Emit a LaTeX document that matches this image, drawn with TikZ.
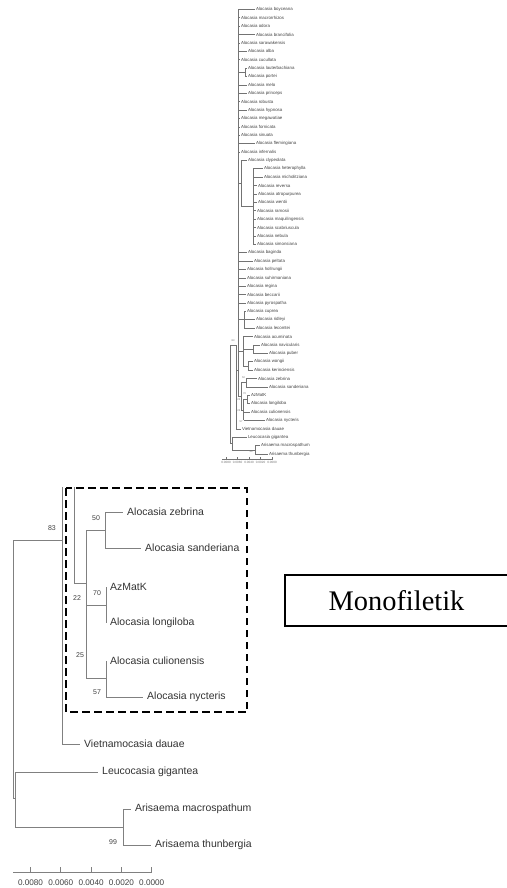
\documentclass[tikz,border=0pt]{standalone}
\usepackage{fontspec}
\setmainfont{Liberation Serif}
\newfontfamily\treefont{Liberation Sans}
\tikzset{
  branch/.style={draw=black!50, line width=0.7bp},
  twig/.style={draw=black!55, line width=0.5bp},
  taxon/.style={anchor=west, inner sep=4bp, text=black!80, font=\treefont\fontsize{10.5}{12}\selectfont},
  minitaxon/.style={anchor=west, inner sep=0.8bp, text=black!75, font=\treefont\fontsize{4.4}{5}\selectfont},
  boot/.style={inner sep=0, text=black!75, font=\treefont\fontsize{7}{8}\selectfont},
  scalelabel/.style={inner sep=0, text=black!75, font=\treefont\fontsize{8.2}{9}\selectfont},
  miniboot/.style={inner sep=0, text=black!55, font=\treefont\fontsize{2.6}{3}\selectfont},
  dashbox/.style={line width=2.6bp, dash pattern=on 7.5bp off 4.5bp},
}
\begin{document}
\begin{tikzpicture}[x=1bp,y=-1bp]
	\useasboundingbox (0,0) rectangle (507,888);
	% overview tree
	\foreach \name/\tx/\px [count=\i] in {Alocasia boyceana/255/238, Alocasia macrorrhizos/240/238, Alocasia odora/240/238, Alocasia brancifolia/255/238, Alocasia sarawakensis/240/238, Alocasia alba/247/238, Alocasia cucullata/240/238, Alocasia lauterbachiana/247/245, Alocasia portei/247/245, Alocasia melo/247/238, Alocasia princeps/247/238, Alocasia robusta/240/238, Alocasia hypnosa/247/238, Alocasia megawatiae/240/238, Alocasia fornicata/240/238, Alocasia sinuata/240/238, Alocasia flemingiana/255/238, Alocasia infernalis/240/238, Alocasia clypeolata/247/241, Alocasia heterophylla/263/253, Alocasia micholitziana/263/253, Alocasia reversa/257/253, Alocasia atropurpurea/257/253, Alocasia wentii/257/253, Alocasia ramosii/256/253, Alocasia maquilingensis/256/253, Alocasia scabriuscula/256/253, Alocasia nebula/256/253, Alocasia simonsiana/256/253, Alocasia baginda/247/238, Alocasia peltata/253/238, Alocasia hollrungii/246/238, Alocasia suhirmaniana/246/238, Alocasia regina/246/238, Alocasia beccarii/246/238, Alocasia pyrospatha/246/238, Alocasia cuprea/246/244, Alocasia ridleyi/255/244, Alocasia lecomtei/255/244, Alocasia acuminata/253/243, Alocasia navicularis/260/253, Alocasia puber/268/253, Alocasia wongii/253/248, Alocasia kerinciensis/253/248, Alocasia zebrina/257/246, Alocasia sanderiana/268/246, AzMatK/250/247, Alocasia longiloba/250/247, Alocasia culionensis/250/243.5, Alocasia nycteris/265/243.5, Vietnamocasia dauae/241/236, Leucocasia gigantea/247/232, Arisaema macrospathum/260/255, Arisaema thunbergia/268/255}{
		\node[minitaxon] (t\i) at (\tx,{9.3+(\i-1)*8.39}) {\name};
		\draw[twig] (\px,{9.3+(\i-1)*8.39}) -- (t\i.west);
	}
	\foreach \nx/\ya/\yb/\px in {245/68.03/76.42/238, 253/168.71/244.22/241, 241/160.32/206.47/238, 244/311.34/328.12/238, 253/344.9/353.29/243, 248/361.68/370.07/243, 243/336.51/365.88/238, 246/378.46/386.85/241, 247/395.24/403.63/243.5, 243.5/399.44/420.41/241, 241/382.66/409.93/238, 255/445.58/453.97/232, 232/437.19/449.78/230}{
		\draw[twig] (\nx,\ya) -- (\nx,\yb);
		\draw[twig] (\px,{(\ya+\yb)/2}) -- (\nx,{(\ya+\yb)/2});
	}
	\draw[twig, line width=0.8bp] (238,9.3) -- (238,396.3);
	\draw[twig] (230,345) -- (230,443.5);
	\draw[twig] (230,345) -- (236,345) -- (236,428.8);
	\draw[twig] (236,370) -- (238,370);
	\node[miniboot] (m83) at (233,341) {83};
	\node[miniboot] (m50) at (243.5,378) {50};
	\node[miniboot] (m70) at (244.5,394) {70};
	\node[miniboot] (m22) at (238.8,400) {22};
	\node[miniboot] (m25) at (238.8,411) {25};
	\node[miniboot] (m57) at (241,422) {57};
	\node[miniboot] (m99) at (251,452) {99};
	\draw[twig] (222,459) -- (273,459);
	\foreach \v [count=\k from 0] in {0.0080,0.0060,0.0040,0.0020,0.0000}{
		\draw[twig] ({226+11.5*\k},457) -- ({226+11.5*\k},459);
		\node[miniboot, font=\treefont\fontsize{3.1}{4}\selectfont] (ms\k) at ({226+11.5*\k},462.5) {\v};
	}
	% enlarged tree
	\node[taxon] (zeb) at (123,512) {Alocasia zebrina};
	\node[taxon] (san) at (141,548) {Alocasia sanderiana};
	\node[taxon] (azm) at (106,587) {AzMatK};
	\node[taxon] (lon) at (106,623) {Alocasia longiloba};
	\node[taxon] (cul) at (106,661) {Alocasia culionensis};
	\node[taxon] (nyc) at (143,697) {Alocasia nycteris};
	\node[taxon] (vie) at (80,744) {Vietnamocasia dauae};
	\node[taxon] (leu) at (98,772) {Leucocasia gigantea};
	\node[taxon] (mac) at (131,809) {Arisaema macrospathum};
	\node[taxon] (thu) at (151,845) {Arisaema thunbergia};
	\coordinate (cutA) at (62,487);
	\coordinate (cutB) at (74,487);
	\coordinate (root) at (13,540);
	\coordinate (nIn) at (62,540);
	\coordinate (n22) at (86,583);
	\coordinate (n50) at (105,530);
	\coordinate (n70) at (106,605);
	\coordinate (n57) at (106,678);
	\coordinate (nOut) at (15,798);
	\coordinate (n99) at (123,827);
	\draw[branch] (n50) |- (zeb.west);
	\draw[branch] (n50) |- (san.west);
	\draw[branch] (n70) |- (azm.west);
	\draw[branch] (n70) |- (lon.west);
	\draw[branch] (n57) |- (cul.west);
	\draw[branch] (n57) |- (nyc.west);
	\draw[branch] (n22 |- n50) -- (n22 |- n57);
	\draw[branch] (n22 |- n50) -- (n50);
	\draw[branch] (n22 |- n70) -- (n70);
	\draw[branch] (n22 |- n57) -- (n57);
	\draw[branch] (cutB) |- (n22);
	\draw[branch] (cutA) |- (vie.west);
	\draw[branch] (root) -- (nIn);
	\draw[branch] (root) |- (nOut);
	\draw[branch] (nOut) |- (leu.west);
	\draw[branch] (nOut) |- (n99);
	\draw[branch] (n99) |- (mac.west);
	\draw[branch] (n99) |- (thu.west);
	\node[boot] (b83) at (52,528) {83};
	\node[boot] (b50) at (96,518) {50};
	\node[boot] (b70) at (97,593) {70};
	\node[boot] (b22) at (77,598) {22};
	\node[boot] (b25) at (80,655) {25};
	\node[boot] (b57) at (97,692) {57};
	\node[boot] (b99) at (113,842) {99};
	\draw[branch] (13,872) -- (152,872);
	\foreach \v [count=\k from 0] in {0.0080,0.0060,0.0040,0.0020,0.0000}{
		\draw[branch] ({30.5+30.3*\k},867) -- ({30.5+30.3*\k},872);
		\node[scalelabel] (s\k) at ({30.5+30.3*\k},883) {\v};
	}
	\draw[dashbox] (66,488) rectangle (247,712);
	\node[draw, line width=1.1bp, minimum width=223bp, minimum height=51bp, inner sep=0, font=\fontsize{28.5}{33}\selectfont] (mono) at (396.5,600.5) {Monofiletik};
\end{tikzpicture}
\end{document}
